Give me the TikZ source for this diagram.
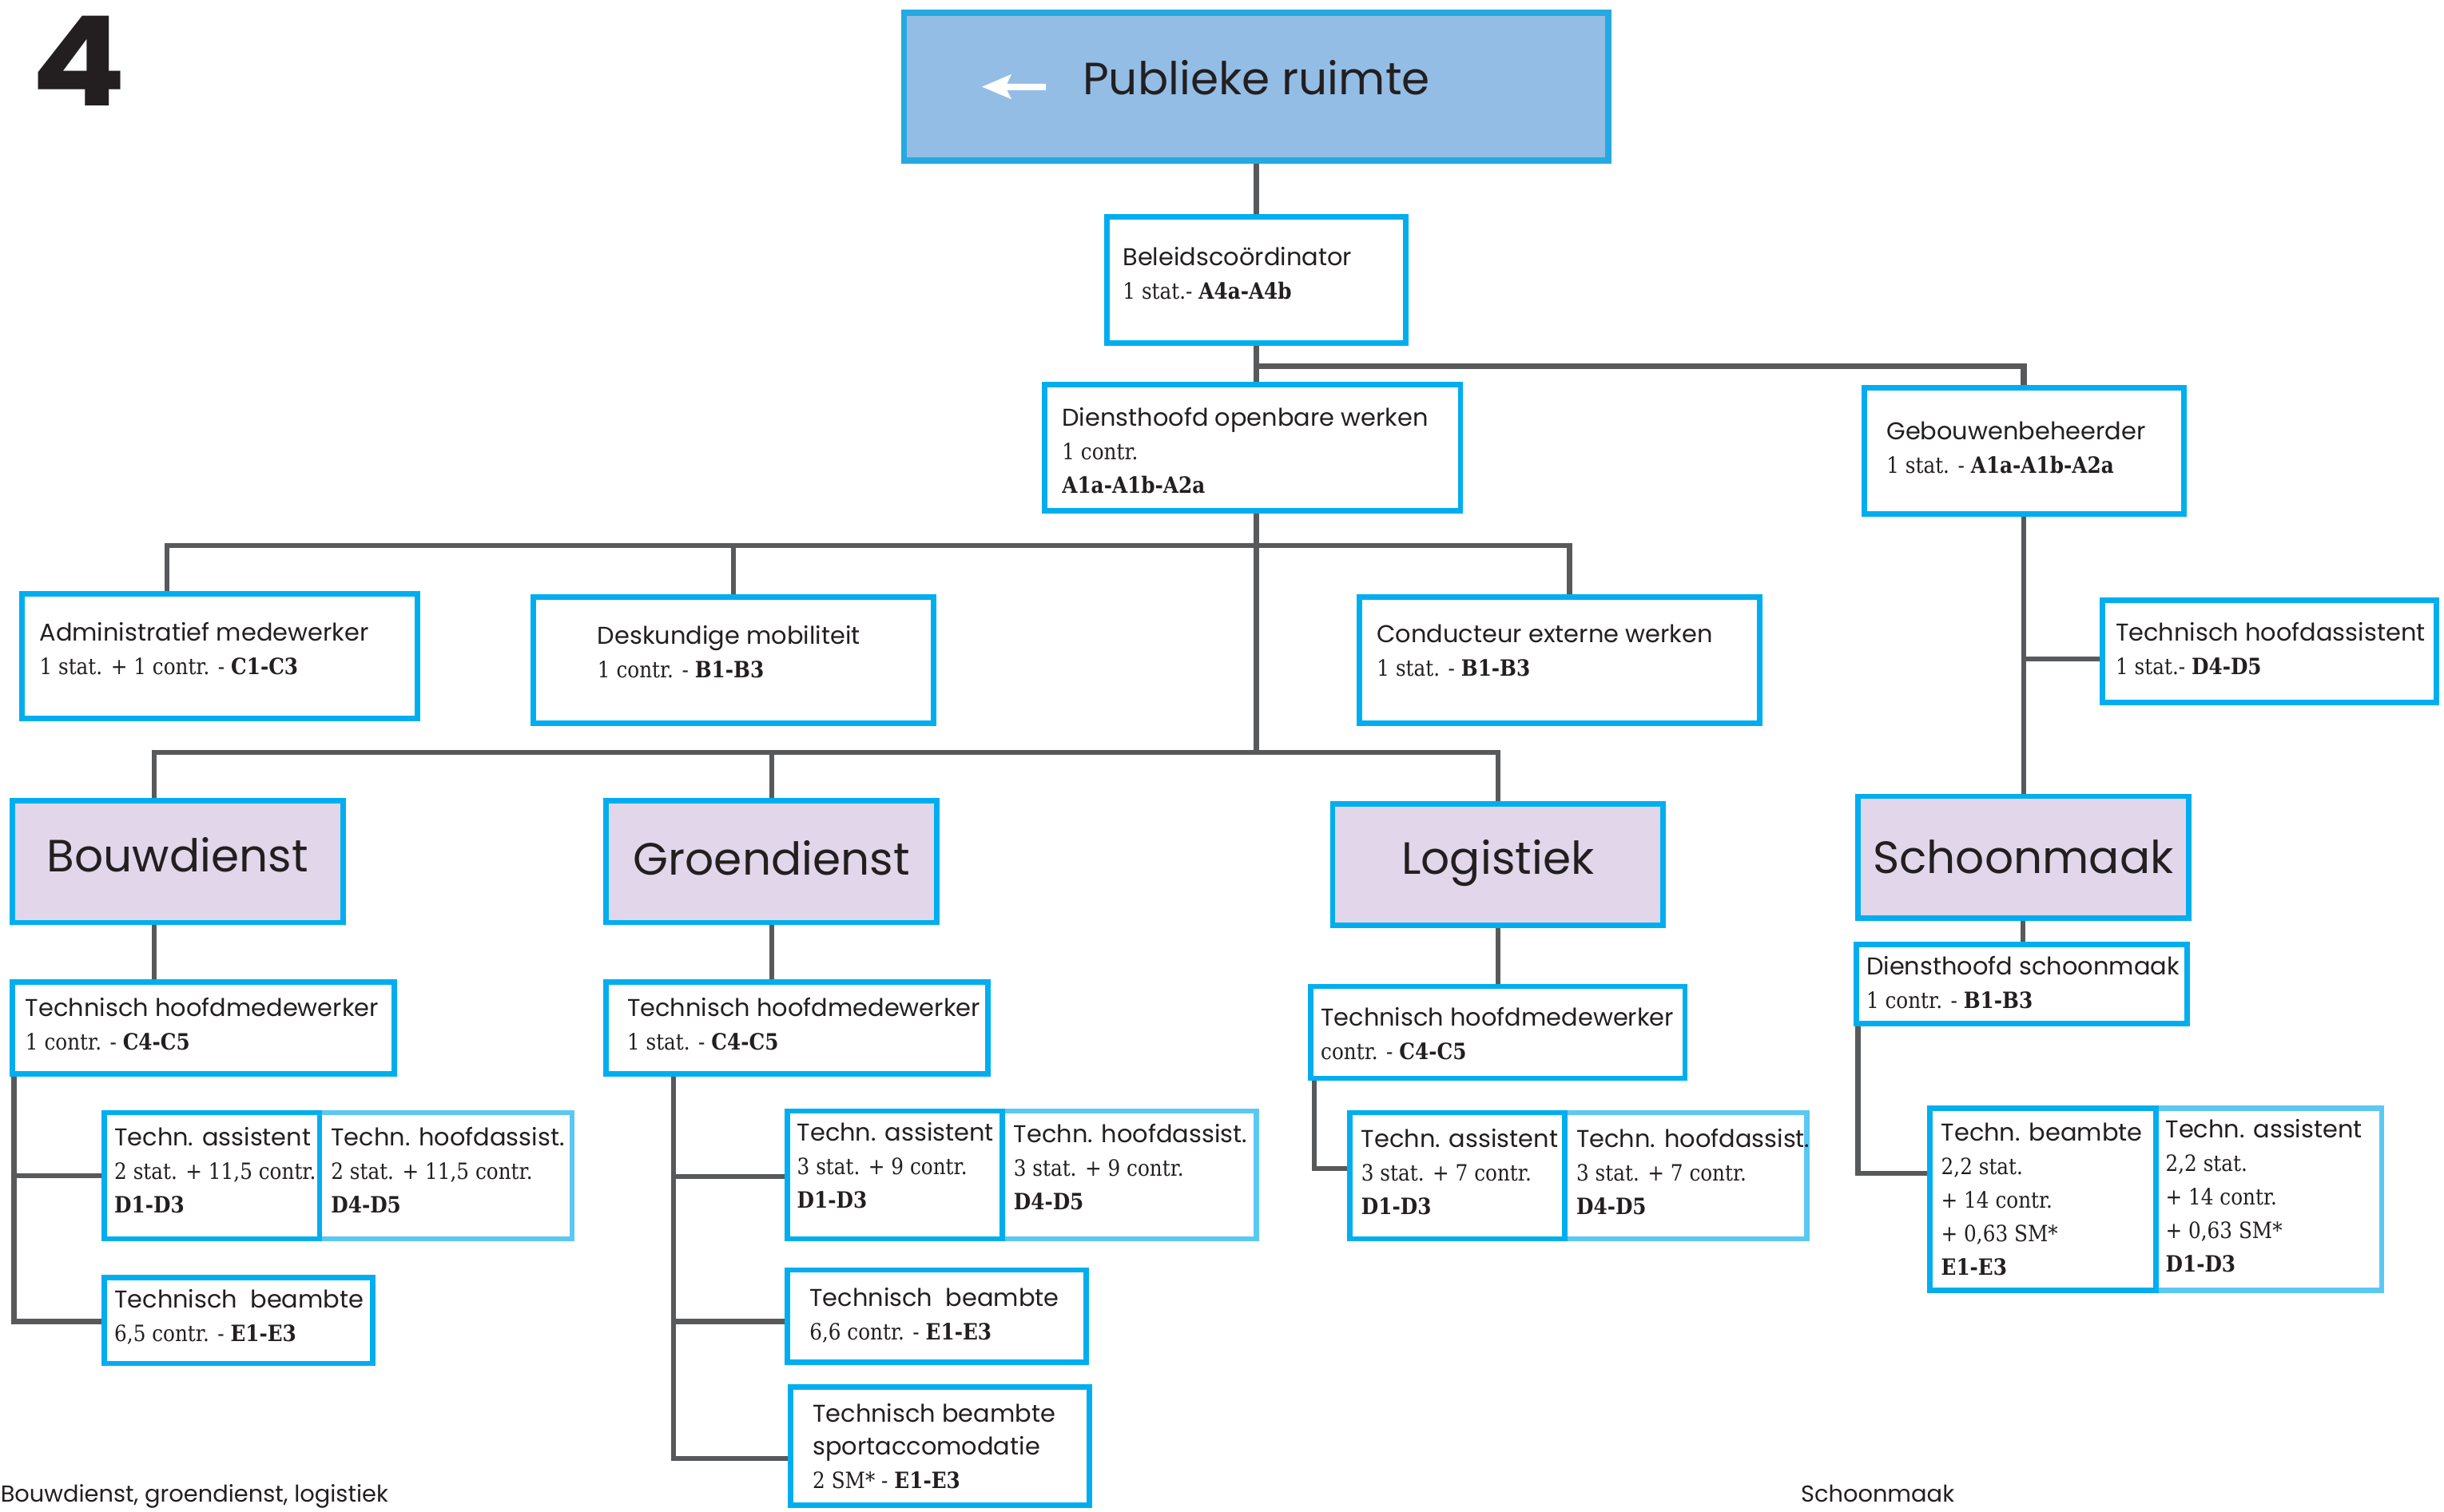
\documentclass[tikz,border=0pt]{standalone}
\usepackage{fontspec}
\setmainfont{Poppins}
\newfontfamily\slab{DejaVu Serif}[FakeStretch=0.88]
\usetikzlibrary{fit}
\definecolor{cyanD}{HTML}{00AEEF}
\definecolor{cyanL}{HTML}{5BC8F3}
\definecolor{pubfill}{HTML}{93BDE5}
\definecolor{pubdraw}{HTML}{25A9E1}
\definecolor{lav}{HTML}{E1D6EA}
\definecolor{lineg}{HTML}{58595B}
\definecolor{ink}{HTML}{231F20}
\newcommand\sr[1]{{\slab\fontsize{7.2}{10.75}\selectfont #1}}
\newcommand\gr[1]{{\slab\bfseries\fontsize{7.2}{10.75}\selectfont #1}}
\newcommand\lab[4]{\node[lbl] (#1) at (#2,{#3-14}) {\rule{0pt}{7pt}#4};}
\pgfdeclarelayer{bg}
\pgfsetlayers{bg,main}
\begin{document}
\begin{tikzpicture}[x=0.5pt,y=-0.5pt,
  box/.style={draw=cyanD, line width=1.75pt, fill=white, inner sep=0pt},
  boxL/.style={box, draw=cyanL},
  tbox/.style={box, fill=lav},
  lbl/.style={anchor=north west, inner sep=0pt, align=left, font=\fontsize{7.8}{10.75}\selectfont, text=ink},
  ttl/.style={anchor=base, inner sep=0pt, font=\fontsize{14.5}{18}\selectfont, text=ink},
  conn/.style={draw=lineg, line width=1.6pt},
  connT/.style={draw=lineg, line width=2pt}]
\useasboundingbox (0,0) rectangle (1568,970);

% big number
\node[anchor=base west, inner sep=0pt, font=\fontsize{40}{40}\selectfont\bfseries\addfontfeature{FakeStretch=1.12}, text=ink] (num) at (20,68) {4};

% top box
\node[box, draw=pubdraw, fill=pubfill, line width=2pt, fit={(580,8) (1032,103)}] (pr) {};
\fill[white] (630,55.7) -- (649,47.6) -- (646,53.8) -- (671,53.8) -- (671,57.8) -- (646,57.8) -- (649,63.7) -- cycle;
\node[ttl] (prt) at (806,60.5) {Publieke ruimte};

% boxes
\node[box, fit={(710,139) (902,220)}] (bc) {};
\node[box, fit={(670,247) (937,328)}] (dow) {};
\node[box, fit={(1196,249) (1401,330)}] (gb) {};
\node[box, fit={(1349,385) (1563,451)}] (tha) {};
\node[box, fit={(14,381) (268,461)}] (adm) {};
\node[box, fit={(342,383) (599,464)}] (desk) {};
\node[box, fit={(872,383) (1129,464)}] (cond) {};

\node[tbox, fit={(8,514) (220,592)}] (bouw) {};
\node[tbox, fit={(389,514) (601,592)}] (groen) {};
\node[tbox, fit={(855,516) (1067,594)}] (log) {};
\node[tbox, fit={(1192,511) (1404,589)}] (schoon) {};

\node[box, fit={(8,630) (253,689)}] (bthm) {};
\node[boxL, fit={(205,714) (367,795)}] (bth) {};
\node[box, fit={(67,714) (205,795)}] (bta) {};
\node[box, fit={(67,820) (239,875)}] (btb) {};

\node[box, fit={(389,630) (634,689)}] (gthm) {};
\node[boxL, fit={(643,713) (806,795)}] (gth) {};
\node[box, fit={(505,713) (643,795)}] (gta) {};
\node[box, fit={(505,815) (697,874)}] (gtb) {};
\node[box, fit={(507,890) (699,966)}] (gts) {};

\node[box, fit={(841,633) (1081,692)}] (lthm) {};
\node[boxL, fit={(1004,714) (1159,795)}] (lth) {};
\node[box, fit={(866,714) (1004,795)}] (lta) {};

\node[box, fit={(1191,606) (1403,657)}] (dhs) {};
\node[boxL, fit={(1383,711) (1528,828)}] (sas) {};
\node[box, fit={(1238,711) (1383,828)}] (sbe) {};

% titles
\node[ttl] (bouwt) at (114,559.5) {Bouwdienst};
\node[ttl] (groent) at (495,561.5) {Groendienst};
\node[ttl] (logt) at (961,561) {Logistiek};
\node[ttl] (schoont) at (1298,560.5) {Schoonmaak};

% labels
\lab{bct}{720}{170}{Beleidscoördinator\\ \sr{1 stat.- }\gr{A4a-A4b}}
\lab{dowt}{681}{273}{Diensthoofd openbare werken\\ \sr{1 contr.}\\ \gr{A1a-A1b-A2a}}
\lab{gbt}{1210}{282}{Gebouwenbeheerder\\ \sr{1 stat. - }\gr{A1a-A1b-A2a}}
\lab{that}{1357}{411}{Technisch hoofdassistent\\ \sr{1 stat.- }\gr{D4-D5}}
\lab{admt}{25}{411}{Administratief medewerker\\ \sr{1 stat. + 1 contr. - }\gr{C1-C3}}
\lab{deskt}{383}{413}{Deskundige mobiliteit\\ \sr{1 contr. - }\gr{B1-B3}}
\lab{condt}{883}{412}{Conducteur externe werken\\ \sr{1 stat. - }\gr{B1-B3}}
\lab{bthmt}{16}{652}{Technisch hoofdmedewerker\\ \sr{1 contr. - }\gr{C4-C5}}
\lab{btat}{73}{735}{Techn. assistent\\ \sr{2 stat. + 11,5 contr.}\\ \gr{D1-D3}}
\lab{btht}{212}{735}{Techn. hoofdassist.\\ \sr{2 stat. + 11,5 contr.}\\ \gr{D4-D5}}
\lab{btbt}{73}{839}{Technisch\ \ beambte\\ \sr{6,5 contr. - }\gr{E1-E3}}
\lab{gthmt}{402}{652}{Technisch hoofdmedewerker\\ \sr{1 stat. - }\gr{C4-C5}}
\lab{gtat}{511}{732}{Techn. assistent\\ \sr{3 stat. + 9 contr.}\\ \gr{D1-D3}}
\lab{gtht}{650}{733}{Techn. hoofdassist.\\ \sr{3 stat. + 9 contr.}\\ \gr{D4-D5}}
\lab{gtbt}{519}{838}{Technisch\ \ beambte\\ \sr{6,6 contr. - }\gr{E1-E3}}
\lab{gtst}{521}{912}{Technisch beambte\\ sportaccomodatie\\ \sr{2 SM* - }\gr{E1-E3}}
\lab{lthmt}{847}{658}{Technisch hoofdmedewerker\\ \sr{contr. - }\gr{C4-C5}}
\lab{ltat}{873}{736}{Techn. assistent\\ \sr{3 stat. + 7 contr.}\\ \gr{D1-D3}}
\lab{ltht}{1011}{736}{Techn. hoofdassist.\\ \sr{3 stat. + 7 contr.}\\ \gr{D4-D5}}
\lab{dhst}{1197}{625}{Diensthoofd schoonmaak\\ \sr{1 contr. - }\gr{B1-B3}}
\lab{sbet}{1245}{732}{Techn. beambte\\ \sr{2,2 stat.}\\ \sr{+ 14 contr.}\\ \sr{+ 0,63 SM*}\\ \gr{E1-E3}}
\lab{sast}{1389}{730}{Techn. assistent\\ \sr{2,2 stat.}\\ \sr{+ 14 contr.}\\ \sr{+ 0,63 SM*}\\ \gr{D1-D3}}

% captions at the bottom edge
\node[anchor=base west, inner sep=0pt, font=\fontsize{7.4}{9}\selectfont, text=ink] (cap1) at (0,964) {Bouwdienst, groendienst, logistiek};
\node[anchor=base west, inner sep=0pt, font=\fontsize{7.4}{9}\selectfont, text=ink] (cap2) at (1155,964) {Schoonmaak};

% junction coordinates
\coordinate (j1) at (806,235);
\coordinate (j3) at (806,483);
\coordinate (h2a) at (107,350);
\coordinate (h2b) at (1007,350);
\coordinate (h3a) at (99,483);
\coordinate (tj) at (1298,423);
\coordinate (bv) at (9,689);
\coordinate (bb2) at (9,848);
\coordinate (gv) at (432,689);
\coordinate (gb1) at (432,755);
\coordinate (gb2) at (432,848);
\coordinate (gb3) at (432,936);
\coordinate (lv) at (843,692);
\coordinate (lb) at (843,750);
\coordinate (sv) at (1192,657);
\coordinate (sb) at (1192,753);

\begin{pgfonlayer}{bg}
\draw[connT] (pr.south) -- (bc.north);
\draw[connT] (bc.south) -- (bc.south |- dow.north);
\draw[connT] (j1) -| (gb.north);
\draw[conn] (dow.south -| j1) -- (j3);
\draw[conn] (h2a |- adm.north) -- (h2a) -- (h2b) -- (h2b |- cond.north);
\draw[conn] (desk.north) -- (desk.north |- h2a);
\draw[conn] (h3a |- bouw.north) -- (h3a) -| (log.north);
\draw[conn] (groen.north) -- (groen.north |- h3a);
\draw[conn] (gb.south) -- (gb.south |- schoon.north);
\draw[conn] (tj) -- (tj -| tha.west);
\draw[conn] (h3a |- bouw.south) -- (h3a |- bthm.north);
\draw[conn] (groen.south) -- (groen.south |- gthm.north);
\draw[conn] (log.south) -- (log.south |- lthm.north);
\draw[conn] (schoon.south) -- (schoon.south |- dhs.north);
\draw[conn] (bv) -- (bb2) -- (bb2 -| btb.west);
\draw[conn] (bv |- bta.west) -- (bta.west);
\draw[conn] (gv) -- (gb3) -- (gb3 -| gts.west);
\draw[conn] (gb1) -- (gb1 -| gta.west);
\draw[conn] (gb2) -- (gb2 -| gtb.west);
\draw[conn] (lv) -- (lb) -- (lb -| lta.west);
\draw[conn] (sv) -- (sb) -- (sb -| sbe.west);
\end{pgfonlayer}
\end{tikzpicture}
\end{document}
